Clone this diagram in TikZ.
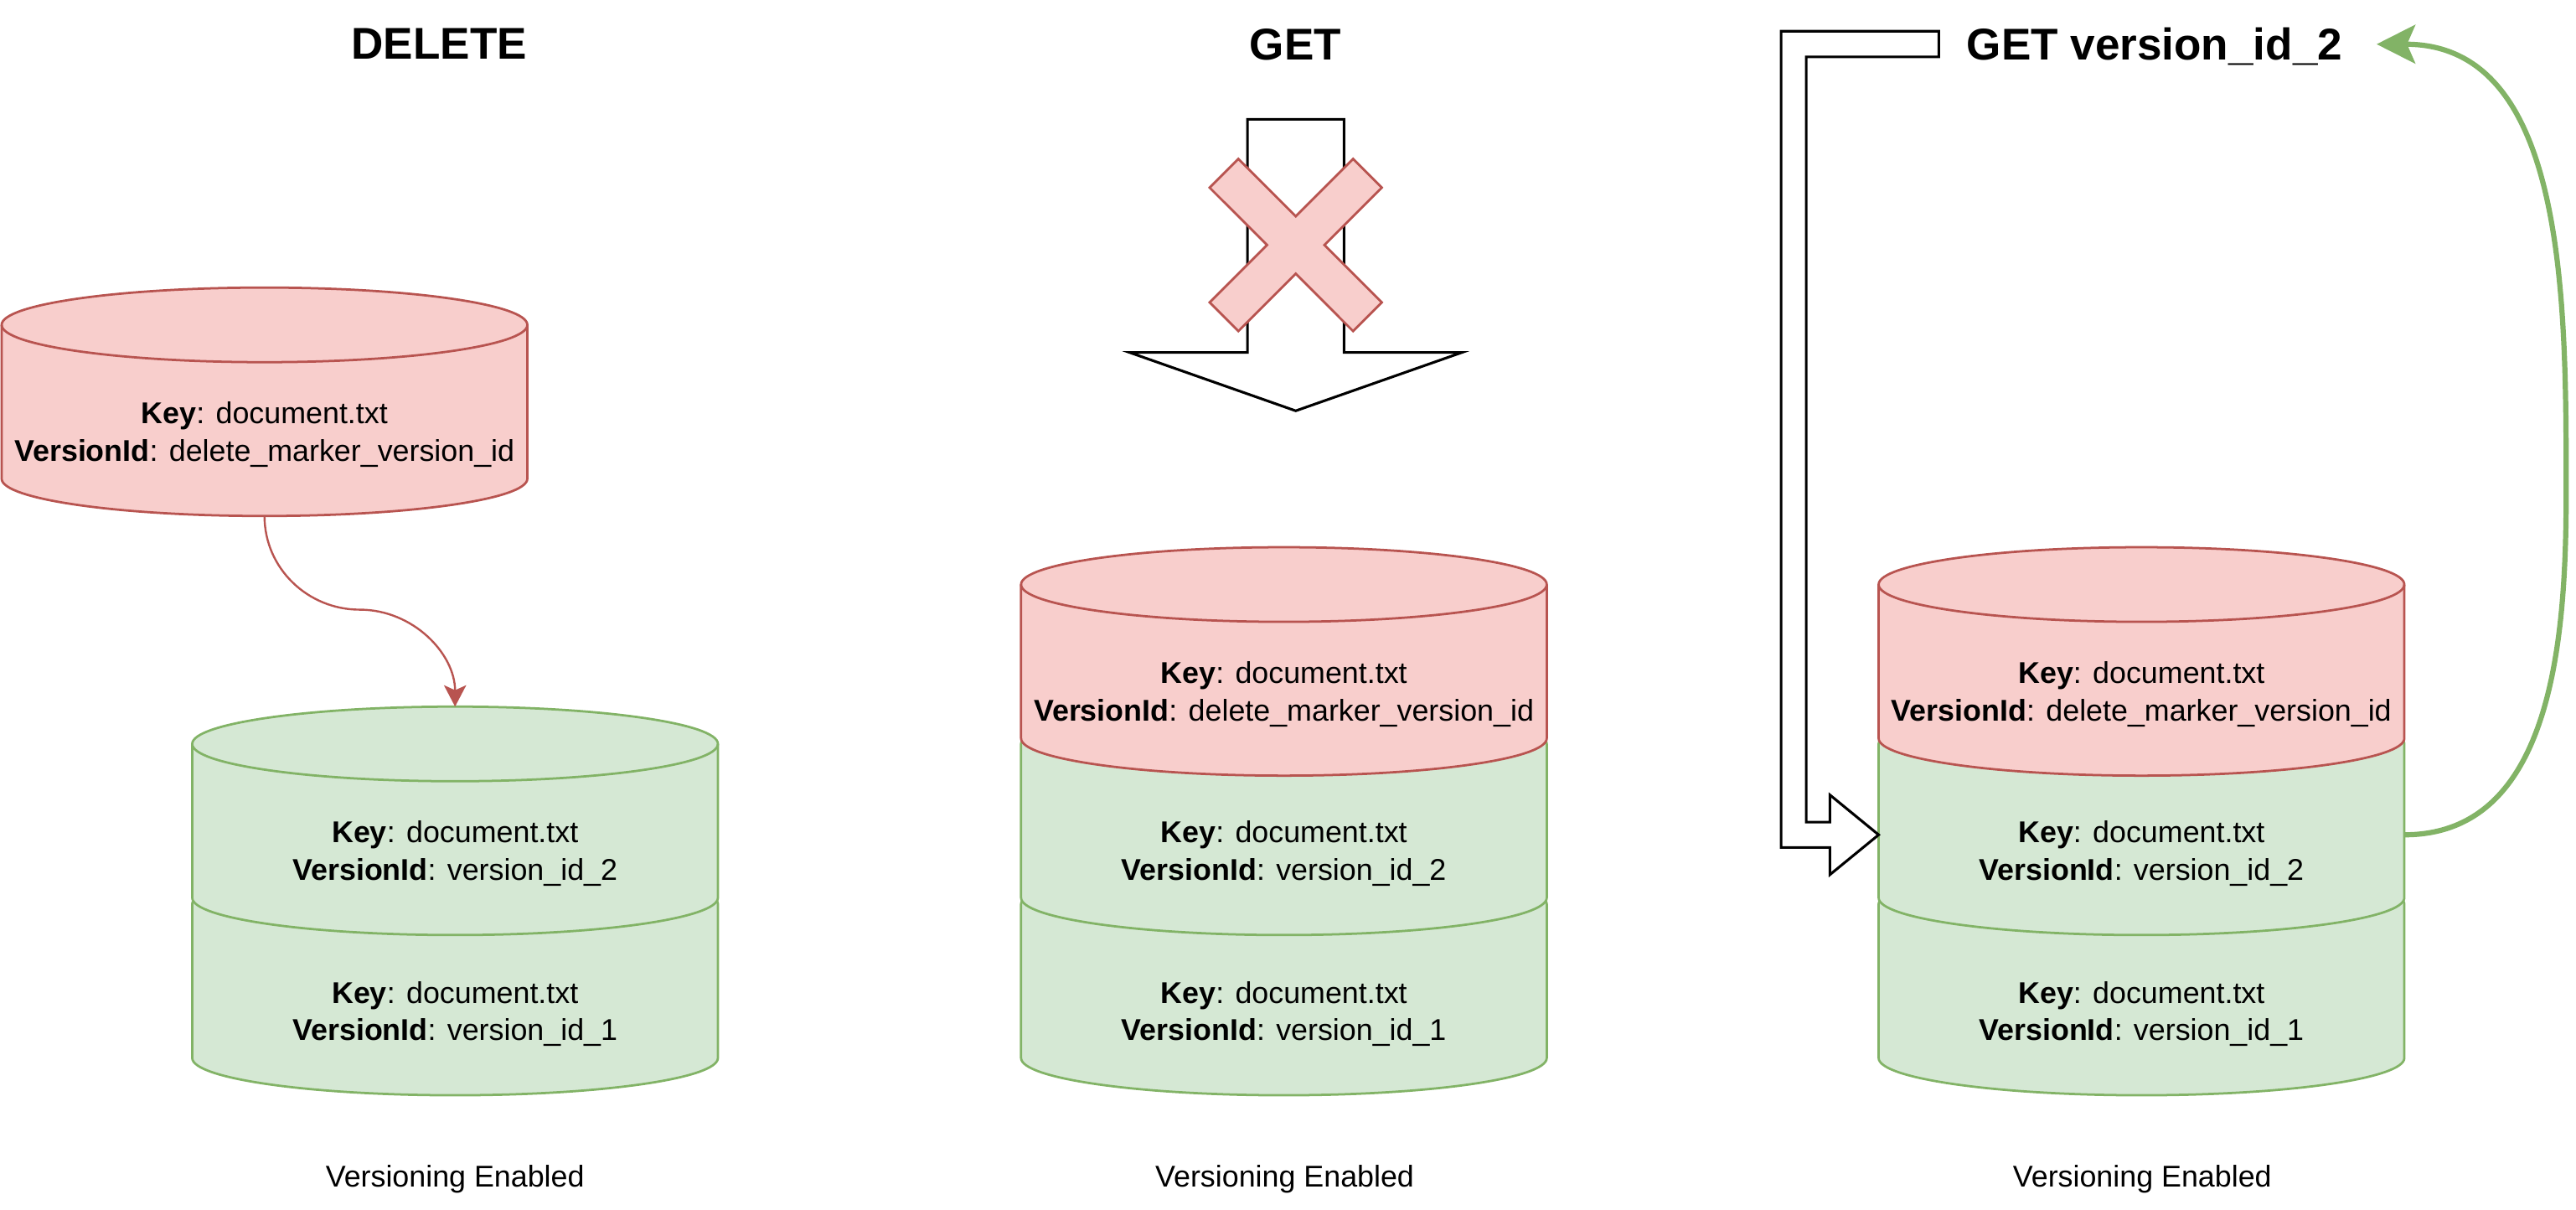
\documentclass[tikz,border=0pt]{standalone}
\usepackage{fontspec}
\setmainfont{Liberation Sans}
\usetikzlibrary{arrows.meta, calc}

\definecolor{delfill}{HTML}{F8CECC}
\definecolor{delline}{HTML}{B85450}
\definecolor{okfill}{HTML}{D5E8D4}
\definecolor{okline}{HTML}{82B366}

% one object version drawn as a cylinder; origin = top centre
\tikzset{
  cyltop/.style={},
  pics/dbcyl/.style 2 args={code={
    \path[#1] (-160,22.7) -- (-160,116.3)
      arc[start angle=180, end angle=0, x radius=160, y radius=22.7]
      -- (160,22.7)
      arc[start angle=0, end angle=-180, x radius=160, y radius=22.7] -- cycle;
    \draw[#1, fill=none, cyltop] (-160,22.7)
      arc[start angle=180, end angle=0, x radius=160, y radius=22.7];
    \node[dbtext] (-txt) at (0,89.5) {#2};
    \coordinate (-top) at (0,0);
    \coordinate (-bot) at (0,139);
    \coordinate (-west) at (-160,78);
    \coordinate (-east) at (160,78);
  }}
}

\begin{document}
\begin{tikzpicture}[
    x=0.02cm, y=-0.02cm,
    title/.style={font=\fontsize{15.4}{18}\selectfont\bfseries, inner sep=0pt, text depth=0pt},
    dbtext/.style={align=center, font=\fontsize{10.4}{13}\selectfont, inner sep=0pt},
    note/.style={font=\fontsize{10.4}{13}\selectfont, inner sep=0pt, text depth=0pt},
    delcyl/.style={draw=delline, fill=delfill, line width=0.8pt},
    okcyl/.style={draw=okline, fill=okfill, line width=0.8pt},
    hidden/.style={cyltop/.style={draw=none}},
    block/.style={draw=black, fill=white, line width=0.9pt, line join=miter},
    cross/.style={draw=delline, fill=delfill, line width=0.8pt},
    delarrow/.style={draw=delline, line width=0.7pt, -{Stealth[length=0.26cm, width=0.27cm, inset=0.06cm]}},
    okarrow/.style={draw=okline, line width=1.8pt, -{Stealth[length=0.47cm, width=0.47cm, inset=0.1cm]}},
]
\useasboundingbox (0,0) rectangle (1568,736);

% Titles
\node[title] (tdel) at (267.3,26.9) {DELETE};
\node[title] (tget) at (788.5,26.9) {GET};
\node[title, inner xsep=0.41cm] (getv) at (1311.5,26.9) {GET version\_id\_2};

% DELETE: marker put on top of the bucket
\pic[hidden] (lv1) at (277,527.5) {dbcyl={okcyl}{\textbf{Key}: document.txt\\\textbf{VersionId}: version\_id\_1}};
\pic (lv2) at (277,430) {dbcyl={okcyl}{\textbf{Key}: document.txt\\\textbf{VersionId}: version\_id\_2}};
\pic (ldm) at (161,175) {dbcyl={delcyl}{\textbf{Key}: document.txt\\\textbf{VersionId}: delete\_marker\_version\_id}};

\coordinate (kink) at (219,371);
\draw[delarrow] (ldm-bot) to[out=-90,in=180] (kink) to[out=0,in=90] (lv2-top);

% GET: plain request is blocked
\pic[hidden] (mv1) at (781.5,527.5) {dbcyl={okcyl}{\textbf{Key}: document.txt\\\textbf{VersionId}: version\_id\_1}};
\pic[hidden] (mv2) at (781.5,430) {dbcyl={okcyl}{\textbf{Key}: document.txt\\\textbf{VersionId}: version\_id\_2}};
\pic (mdm) at (781.5,333) {dbcyl={delcyl}{\textbf{Key}: document.txt\\\textbf{VersionId}: delete\_marker\_version\_id}};

\draw[block] (759.3,72.6) -- (818.1,72.6) -- (818.1,214.5) -- (889.8,214.5)
    -- (788.7,250) -- (687.6,214.5) -- (759.3,214.5) -- cycle;
\begin{scope}[shift={(788.7,149.1)}]
\draw[cross] (-34.9,-52.4) -- (0,-17.45) -- (34.9,-52.4) -- (52.4,-34.9)
    -- (17.45,0) -- (52.4,34.9) -- (34.9,52.4) -- (0,17.45)
    -- (-34.9,52.4) -- (-52.4,34.9) -- (-17.45,0) -- (-52.4,-34.9) -- cycle;
\end{scope}

% GET version_id_2: request goes straight to the older version
\pic[hidden] (rv1) at (1303.5,527.5) {dbcyl={okcyl}{\textbf{Key}: document.txt\\\textbf{VersionId}: version\_id\_1}};
\pic[hidden] (rv2) at (1303.5,430) {dbcyl={okcyl}{\textbf{Key}: document.txt\\\textbf{VersionId}: version\_id\_2}};
\pic (rdm) at (1303.5,333) {dbcyl={delcyl}{\textbf{Key}: document.txt\\\textbf{VersionId}: delete\_marker\_version\_id}};

\begin{scope}[shift={(rv2-west)}]
\draw[block] (36.6,-489) -- (-59.4,-489) -- (-59.4,7.7) -- (-29.7,7.7)
    -- (-29.7,24.3) -- (0,0) -- (-29.7,-24.3) -- (-29.7,-7.7)
    -- (-44.1,-7.7) -- (-44.1,-473.4) -- (36.6,-473.4) -- cycle;
\end{scope}

\coordinate (loop) at (1562,300);
\draw[okarrow] (rv2-east) to[out=0,in=-90] (loop) to[out=90,in=0] (getv.east);

% Footers
\node[note] (lnote) at (277,715.6) {Versioning Enabled};
\node[note] (mnote) at (782,715.6) {Versioning Enabled};
\node[note] (rnote) at (1304,715.6) {Versioning Enabled};

\end{tikzpicture}
\end{document}
